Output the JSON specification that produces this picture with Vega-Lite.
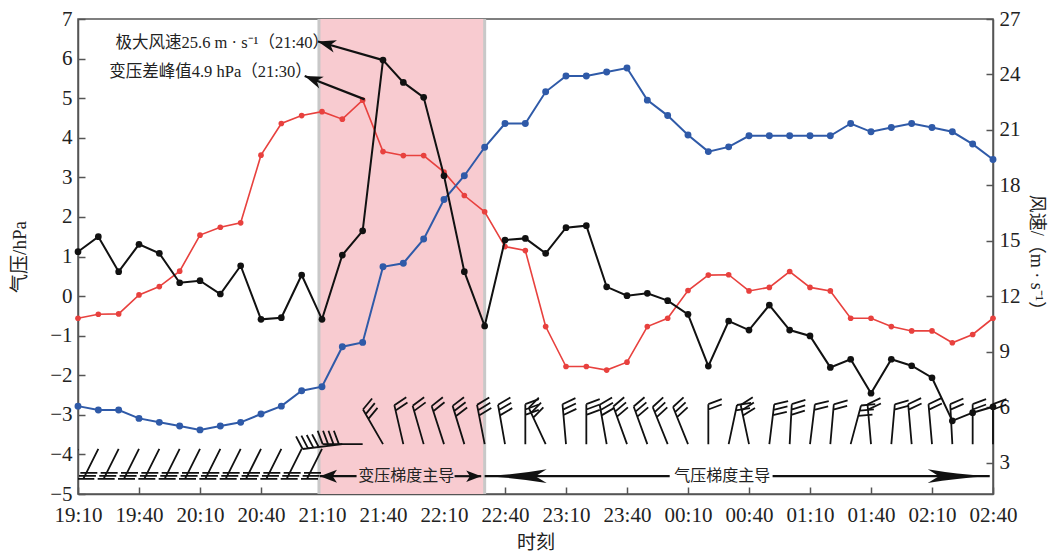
{
  "$schema": "https://vega.github.io/schema/vega-lite/v6.json",
  "width": 915,
  "height": 475,
  "autosize": "none",
  "padding": {"left": 78, "top": 19, "right": 56, "bottom": 60},
  "background": "white",
  "config": {
    "view": {"stroke": "#555555", "strokeWidth": 1.5},
    "axis": {
      "grid": false, "domainColor": "#555555", "domainWidth": 1.5,
      "tickColor": "#555555", "tickWidth": 1.5, "tickSize": -7,
      "labelFont": "Liberation Serif", "labelFontSize": 21, "labelColor": "#222222", "labelPadding": 13,
      "titleFont": "Liberation Serif, Noto Sans CJK SC", "titleFontSize": 19, "titleFontWeight": "normal", "titleColor": "#222222",
      "labelOverlap": false, "labelFlush": false
    }
  },
  "datasets": {
    "series": [
      {"t": 0, "dP": -0.56, "P": -2.78, "V": 14.41},
      {"t": 10, "dP": -0.46, "P": -2.88, "V": 15.22},
      {"t": 20, "dP": -0.45, "P": -2.88, "V": 13.33},
      {"t": 30, "dP": 0.03, "P": -3.09, "V": 14.81},
      {"t": 40, "dP": 0.24, "P": -3.19, "V": 14.32},
      {"t": 50, "dP": 0.63, "P": -3.28, "V": 12.73},
      {"t": 60, "dP": 1.54, "P": -3.38, "V": 12.84},
      {"t": 70, "dP": 1.74, "P": -3.28, "V": 12.12},
      {"t": 80, "dP": 1.85, "P": -3.19, "V": 13.65},
      {"t": 90, "dP": 3.56, "P": -2.98, "V": 10.75},
      {"t": 100, "dP": 4.36, "P": -2.78, "V": 10.84},
      {"t": 110, "dP": 4.56, "P": -2.39, "V": 13.15},
      {"t": 120, "dP": 4.66, "P": -2.29, "V": 10.75},
      {"t": 130, "dP": 4.47, "P": -1.28, "V": 14.23},
      {"t": 140, "dP": 4.95, "P": -1.17, "V": 15.54},
      {"t": 150, "dP": 3.65, "P": 0.74, "V": 24.78},
      {"t": 160, "dP": 3.55, "P": 0.83, "V": 23.57},
      {"t": 170, "dP": 3.55, "P": 1.44, "V": 22.76},
      {"t": 180, "dP": 3.13, "P": 2.44, "V": 18.52},
      {"t": 190, "dP": 2.54, "P": 3.04, "V": 13.33},
      {"t": 200, "dP": 2.13, "P": 3.76, "V": 10.39},
      {"t": 210, "dP": 1.25, "P": 4.36, "V": 15.04},
      {"t": 220, "dP": 1.15, "P": 4.36, "V": 15.13},
      {"t": 230, "dP": -0.77, "P": 5.16, "V": 14.32},
      {"t": 240, "dP": -1.78, "P": 5.56, "V": 15.71},
      {"t": 250, "dP": -1.78, "P": 5.56, "V": 15.82},
      {"t": 260, "dP": -1.87, "P": 5.66, "V": 12.51},
      {"t": 270, "dP": -1.67, "P": 5.76, "V": 12.03},
      {"t": 280, "dP": -0.77, "P": 4.95, "V": 12.16},
      {"t": 290, "dP": -0.56, "P": 4.56, "V": 11.76},
      {"t": 300, "dP": 0.14, "P": 4.07, "V": 11.02},
      {"t": 310, "dP": 0.53, "P": 3.65, "V": 8.22},
      {"t": 320, "dP": 0.54, "P": 3.77, "V": 10.66},
      {"t": 330, "dP": 0.13, "P": 4.05, "V": 10.17},
      {"t": 340, "dP": 0.22, "P": 4.05, "V": 11.52},
      {"t": 350, "dP": 0.62, "P": 4.05, "V": 10.17},
      {"t": 360, "dP": 0.22, "P": 4.05, "V": 9.85},
      {"t": 370, "dP": 0.13, "P": 4.05, "V": 8.15},
      {"t": 380, "dP": -0.56, "P": 4.36, "V": 8.59},
      {"t": 390, "dP": -0.56, "P": 4.15, "V": 6.75},
      {"t": 400, "dP": -0.77, "P": 4.26, "V": 8.59},
      {"t": 410, "dP": -0.88, "P": 4.36, "V": 8.24},
      {"t": 420, "dP": -0.88, "P": 4.26, "V": 7.59},
      {"t": 430, "dP": -1.18, "P": 4.15, "V": 5.26},
      {"t": 440, "dP": -0.97, "P": 3.84, "V": 5.70},
      {"t": 450, "dP": -0.56, "P": 3.45, "V": 6.02}
    ],
    "barbs": [
      {"t": 0, "barb": "g", "dir": 0},
      {"t": 10, "barb": "g", "dir": 0},
      {"t": 20, "barb": "g", "dir": 0},
      {"t": 30, "barb": "g", "dir": 0},
      {"t": 40, "barb": "g", "dir": 0},
      {"t": 50, "barb": "g", "dir": 0},
      {"t": 60, "barb": "g", "dir": 0},
      {"t": 70, "barb": "g", "dir": 0},
      {"t": 80, "barb": "g", "dir": 0},
      {"t": 90, "barb": "g", "dir": 0},
      {"t": 100, "barb": "g", "dir": 0},
      {"t": 110, "barb": "g", "dir": 0},
      {"t": 120, "barb": "g", "dir": 0},
      {"t": 130, "barb": "b4", "dir": -97},
      {"t": 140, "barb": "b4", "dir": -90},
      {"t": 150, "barb": "b3", "dir": -30},
      {"t": 160, "barb": "b2", "dir": -13},
      {"t": 170, "barb": "b2", "dir": -16},
      {"t": 180, "barb": "b2", "dir": -18},
      {"t": 190, "barb": "b3", "dir": -17},
      {"t": 200, "barb": "b3", "dir": -11},
      {"t": 210, "barb": "b3", "dir": -10},
      {"t": 220, "barb": "b3", "dir": 0},
      {"t": 230, "barb": "b3", "dir": -25},
      {"t": 240, "barb": "b3", "dir": -5},
      {"t": 250, "barb": "b3", "dir": 0},
      {"t": 260, "barb": "b3", "dir": -10},
      {"t": 270, "barb": "b3", "dir": -20},
      {"t": 280, "barb": "b3", "dir": -20},
      {"t": 290, "barb": "b3", "dir": -22},
      {"t": 300, "barb": "b3", "dir": -22},
      {"t": 310, "barb": "b2", "dir": 0},
      {"t": 320, "barb": "b2", "dir": 12},
      {"t": 330, "barb": "b3", "dir": -12},
      {"t": 340, "barb": "b3", "dir": 7},
      {"t": 350, "barb": "b3", "dir": 3},
      {"t": 360, "barb": "b2", "dir": 7},
      {"t": 370, "barb": "b2", "dir": 5},
      {"t": 380, "barb": "b3", "dir": 15},
      {"t": 390, "barb": "b2", "dir": -5},
      {"t": 400, "barb": "b2", "dir": 5},
      {"t": 410, "barb": "b2", "dir": -5},
      {"t": 420, "barb": "b2", "dir": -5},
      {"t": 430, "barb": "b2", "dir": -3},
      {"t": 440, "barb": "b2", "dir": 0},
      {"t": 450, "barb": "b2", "dir": 0}
    ],
    "arrows": [
      {"id": "a1", "t": 150, "y": 5.96, "t2": 118, "y2": 6.43},
      {"id": "a2", "t": 141, "y": 4.97, "t2": 111.5, "y2": 5.56},
      {"id": "h1", "t": 137, "y": -4.55, "t2": 119, "y2": -4.55},
      {"id": "h2", "t": 185.2, "y": -4.55, "t2": 198.3, "y2": -4.55},
      {"id": "h3", "t": 291, "y": -4.55, "t2": 200, "y2": -4.55},
      {"id": "h4", "t": 341.6, "y": -4.55, "t2": 448.4, "y2": -4.55}
    ],
    "notes": [
      {"kind": "peak", "t": 123.5, "y": 6.40, "label": "极大风速25.6 m · s⁻¹（21:40）"},
      {"kind": "peak", "t": 115, "y": 5.66, "label": "变压差峰值4.9 hPa（21:30）"},
      {"kind": "zone", "t": 161.4, "y": -4.55, "label": "变压梯度主导"},
      {"kind": "zone", "t": 316.8, "y": -4.55, "label": "气压梯度主导"}
    ]
  },
  "layer": [
    {
      "layer": [
        {
          "data": {"values": [{"t": 118.5, "t2": 200}]},
          "mark": {"type": "rect", "color": "#f8cbd0"},
          "encoding": {
            "x": {"field": "t", "type": "quantitative", "scale": {"domain": [0, 450], "nice": false, "zero": false},
              "axis": {"values": [0, 30, 60, 90, 120, 150, 180, 210, 240, 270, 300, 330, 360, 390, 420, 450],
                "tickCount": 40,
                "labelExpr": "timeFormat(datetime(2020,0,1,19,10+datum.value),'%H:%M')",
                "labelOverlap": false, "labelPadding": 17,
                "title": "时刻", "titlePadding": 8}},
            "x2": {"field": "t2"}
          }
        },
        {
          "data": {"values": [{"t": 118.5}, {"t": 200}]},
          "mark": {"type": "rule", "color": "#c8c8c8", "strokeWidth": 3},
          "encoding": {"x": {"field": "t", "type": "quantitative"}}
        },
        {
          "data": {"name": "series"},
          "mark": {"type": "line", "color": "#e8413e", "strokeWidth": 1.6},
          "encoding": {
            "x": {"field": "t", "type": "quantitative"},
            "y": {"field": "dP", "type": "quantitative", "scale": {"domain": [-5, 7], "nice": false, "zero": false},
              "axis": {"values": [-5, -4, -3, -2, -1, 0, 1, 2, 3, 4, 5, 6, 7], "tickCount": 30, "format": "d", "labelOverlap": false, "title": "气压/hPa", "titlePadding": 20}}
          }
        },
        {
          "data": {"name": "series"},
          "mark": {"type": "point", "shape": "circle", "filled": true, "size": 32, "color": "#e8413e", "opacity": 1},
          "encoding": {
            "x": {"field": "t", "type": "quantitative"},
            "y": {"field": "dP", "type": "quantitative"}
          }
        },
        {
          "data": {"name": "series"},
          "mark": {"type": "line", "color": "#2f5aa8", "strokeWidth": 2},
          "encoding": {
            "x": {"field": "t", "type": "quantitative"},
            "y": {"field": "P", "type": "quantitative"}
          }
        },
        {
          "data": {"name": "series"},
          "mark": {"type": "point", "shape": "circle", "filled": true, "size": 48, "color": "#2f5aa8", "opacity": 1},
          "encoding": {
            "x": {"field": "t", "type": "quantitative"},
            "y": {"field": "P", "type": "quantitative"}
          }
        },
        {
          "data": {"name": "barbs"},
          "transform": [{"filter": "datum.barb === 'g'"}],
          "mark": {"type": "point", "filled": false, "stroke": "#111111", "strokeWidth": 1.8, "size": 1600, "opacity": 1, "clip": true},
          "encoding": {
            "x": {"field": "t", "type": "quantitative"},
            "y": {"datum": -3.86},
            "shape": {"field": "barb", "type": "nominal", "legend": null,
              "scale": {"domain": ["g", "b2", "b3", "b4"],
                "range": [
                  "M0,0L-0.75,1.5M-1.05,1.5L-0.2,1.5M-0.97,1.35L-0.12,1.35M-0.9,1.2L-0.05,1.2",
                  "M0,0L0,-2M0,-2L0.67,-2.25M0,-1.73L0.67,-1.98",
                  "M0,0L0,-2M0,-2L0.67,-2.25M0,-1.73L0.67,-1.98M0,-1.46L0.67,-1.71",
                  "M0,0L0,-2M0,-2L0.67,-2.25M0,-1.73L0.67,-1.98M0,-1.46L0.67,-1.71M0,-1.19L0.67,-1.44"
                ]}},
            "angle": {"field": "dir", "type": "quantitative", "scale": null}
          }
        },
        {
          "data": {"name": "barbs"},
          "transform": [{"filter": "datum.barb !== 'g'"}],
          "mark": {"type": "point", "filled": false, "stroke": "#111111", "strokeWidth": 1.8, "size": 1600, "opacity": 1},
          "encoding": {
            "x": {"field": "t", "type": "quantitative"},
            "y": {"datum": -3.74},
            "shape": {"field": "barb", "type": "nominal", "legend": null},
            "angle": {"field": "dir", "type": "quantitative", "scale": null}
          }
        },
        {
          "data": {"name": "arrows"},
          "mark": {"type": "rule", "color": "#111111", "strokeWidth": 2.2},
          "encoding": {
            "x": {"field": "t", "type": "quantitative"},
            "x2": {"field": "t2"},
            "y": {"field": "y", "type": "quantitative"},
            "y2": {"field": "y2"}
          }
        },
        {
          "data": {"name": "arrows"},
          "transform": [{"filter": "datum.id === 'a1'"}],
          "mark": {"type": "point", "shape": "M0,0L1,-0.35L0.72,0L1,0.35Z", "filled": true, "color": "#111111", "size": 1296, "angle": 15.5, "opacity": 1},
          "encoding": {"x": {"field": "t2", "type": "quantitative"}, "y": {"field": "y2", "type": "quantitative"}}
        },
        {
          "data": {"name": "arrows"},
          "transform": [{"filter": "datum.id === 'a2'"}],
          "mark": {"type": "point", "shape": "M0,0L1,-0.35L0.72,0L1,0.35Z", "filled": true, "color": "#111111", "size": 1296, "angle": 21.2, "opacity": 1},
          "encoding": {"x": {"field": "t2", "type": "quantitative"}, "y": {"field": "y2", "type": "quantitative"}}
        },
        {
          "data": {"name": "arrows"},
          "transform": [{"filter": "datum.id === 'h1'"}],
          "mark": {"type": "point", "shape": "M0,0L1,-0.38L0.75,0L1,0.38Z", "filled": true, "color": "#111111", "size": 1156, "angle": 0, "opacity": 1},
          "encoding": {"x": {"field": "t2", "type": "quantitative"}, "y": {"field": "y2", "type": "quantitative"}}
        },
        {
          "data": {"name": "arrows"},
          "transform": [{"filter": "datum.id === 'h2'"}],
          "mark": {"type": "point", "shape": "M0,0L1,-0.38L0.75,0L1,0.38Z", "filled": true, "color": "#111111", "size": 900, "angle": 180, "opacity": 1},
          "encoding": {"x": {"field": "t2", "type": "quantitative"}, "y": {"field": "y2", "type": "quantitative"}}
        },
        {
          "data": {"name": "arrows"},
          "transform": [{"filter": "datum.id === 'h3'"}],
          "mark": {"type": "point", "shape": "M0,0Q0.55,-0.03 1,-0.11L0.82,0L1,0.11Q0.55,0.03 0,0Z", "filled": true, "color": "#111111", "size": 15376, "angle": 0, "opacity": 1},
          "encoding": {"x": {"field": "t2", "type": "quantitative"}, "y": {"field": "y2", "type": "quantitative"}}
        },
        {
          "data": {"name": "arrows"},
          "transform": [{"filter": "datum.id === 'h4'"}],
          "mark": {"type": "point", "shape": "M0,0Q0.55,-0.03 1,-0.11L0.82,0L1,0.11Q0.55,0.03 0,0Z", "filled": true, "color": "#111111", "size": 15376, "angle": 180, "opacity": 1},
          "encoding": {"x": {"field": "t2", "type": "quantitative"}, "y": {"field": "y2", "type": "quantitative"}}
        },
        {
          "data": {"name": "notes"},
          "transform": [{"filter": "datum.kind === 'peak'"}],
          "mark": {"type": "text", "align": "right", "baseline": "middle", "font": "Liberation Serif, Noto Sans CJK SC", "fontSize": 16.5, "color": "#222222"},
          "encoding": {
            "x": {"field": "t", "type": "quantitative"},
            "y": {"field": "y", "type": "quantitative"},
            "text": {"field": "label"}
          }
        },
        {
          "data": {"name": "notes"},
          "transform": [{"filter": "datum.kind === 'zone'"}],
          "mark": {"type": "text", "align": "center", "baseline": "middle", "font": "Liberation Serif, Noto Sans CJK SC", "fontSize": 16, "color": "#222222"},
          "encoding": {
            "x": {"field": "t", "type": "quantitative"},
            "y": {"field": "y", "type": "quantitative"},
            "text": {"field": "label"}
          }
        }
      ]
    },
    {
      "layer": [
        {
          "data": {"name": "series"},
          "mark": {"type": "line", "color": "#111111", "strokeWidth": 2},
          "encoding": {
            "x": {"field": "t", "type": "quantitative"},
            "y": {"field": "V", "type": "quantitative", "scale": {"domain": [1.3, 27], "nice": false, "zero": false},
              "axis": {"orient": "right", "values": [3, 6, 9, 12, 15, 18, 21, 24, 27], "tickCount": 30, "format": "d", "labelOverlap": false, "title": "风速/（m · s⁻¹）", "titleFontSize": 18, "titlePadding": 6}}
          }
        },
        {
          "data": {"name": "series"},
          "mark": {"type": "point", "shape": "circle", "filled": true, "size": 45, "color": "#111111", "opacity": 1},
          "encoding": {
            "x": {"field": "t", "type": "quantitative"},
            "y": {"field": "V", "type": "quantitative"}
          }
        }
      ]
    }
  ],
  "resolve": {"scale": {"y": "independent"}}
}
